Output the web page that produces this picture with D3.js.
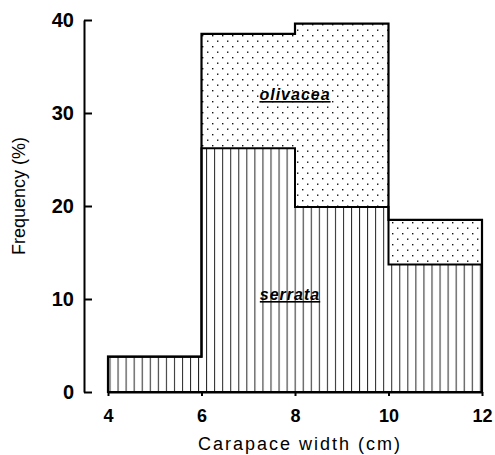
<!doctype html>
<html>
<head>
<meta charset="utf-8">
<script src="https://d3js.org/d3.v7.min.js"></script>
<style>
  body { margin: 0; background: #fff; }
  text { font-family: "Liberation Sans", Arial, sans-serif; fill: #000; }
  .tick line, .domain { stroke: #000; stroke-width: 2; }
</style>
</head>
<body>
<div id="chart"></div>
<script>
// class starts (cm), each class is 2 cm wide
var binStarts = [4, 6, 8, 10];
var binWidth = 2;
var serrata = [3.8, 26.2, 19.9, 13.7];
var olivacea = [0, 12.3, 19.7, 4.8];
var xTicks = [4, 6, 8, 10, 12];
var yTicks = [0, 10, 20, 30, 40];

var width = 495, height = 455;

var svg = d3.select("#chart").append("svg")
    .attr("width", width)
    .attr("height", height);

var x = d3.scaleLinear().domain([4, 12]).range([108, 482]);
var y = d3.scaleLinear().domain([0, 40]).range([392, 20]);

// fill patterns
var defs = svg.append("defs");
var hatch = defs.append("pattern")
    .attr("id", "vlines")
    .attr("patternUnits", "userSpaceOnUse")
    .attr("x", 109.5)
    .attr("width", 8.05).attr("height", 10);
hatch.append("rect").attr("width", 8.05).attr("height", 10).attr("fill", "#fff");
hatch.append("line")
    .attr("x1", 0.5).attr("x2", 0.5).attr("y1", 0).attr("y2", 10)
    .attr("stroke", "#222").attr("stroke-width", 1);

var dots = defs.append("pattern")
    .attr("id", "dots")
    .attr("patternUnits", "userSpaceOnUse")
    .attr("width", 10).attr("height", 11);
dots.append("rect").attr("width", 10).attr("height", 11).attr("fill", "#fff");
dots.append("rect").attr("x", 2).attr("y", 2).attr("width", 1.4).attr("height", 1.4).attr("fill", "#111");
dots.append("rect").attr("x", 7).attr("y", 7.5).attr("width", 1.4).attr("height", 1.4).attr("fill", "#111");

// step points: one per class start, plus the closing edge at 12
var pts = binStarts.map(function(s, i) {
    return {x: s, ser: serrata[i], tot: serrata[i] + olivacea[i]};
});
var last = pts[pts.length - 1];
pts.push({x: last.x + binWidth, ser: last.ser, tot: last.tot});

var serArea = d3.area().curve(d3.curveStepAfter)
    .x(function(d) { return x(d.x); })
    .y0(y(0))
    .y1(function(d) { return y(d.ser); });

var oliArea = d3.area().curve(d3.curveStepAfter)
    .x(function(d) { return x(d.x); })
    .y0(function(d) { return y(d.ser); })
    .y1(function(d) { return y(d.tot); });

var totArea = d3.area().curve(d3.curveStepAfter)
    .x(function(d) { return x(d.x); })
    .y0(y(0))
    .y1(function(d) { return y(d.tot); });

svg.append("path").datum(pts)
    .attr("d", oliArea)
    .attr("fill", "url(#dots)");

svg.append("path").datum(pts)
    .attr("d", serArea)
    .attr("fill", "url(#vlines)")
    .attr("stroke", "#000")
    .attr("stroke-width", 2);

svg.append("path").datum(pts)
    .attr("d", totArea)
    .attr("fill", "none")
    .attr("stroke", "#000")
    .attr("stroke-width", 2.2);

// axes
svg.append("g")
    .attr("transform", "translate(0," + y(0) + ")")
    .call(d3.axisBottom(x).tickValues(xTicks).tickSizeInner(4).tickSizeOuter(0).tickPadding(13))
    .call(function(g) {
        g.selectAll("text").attr("font-size", 18).attr("font-weight", "bold")
            .style("font-family", "'Liberation Sans', Arial, sans-serif").attr("fill", "#000");
    });

svg.append("g")
    .attr("transform", "translate(84,0)")
    .call(d3.axisLeft(y).tickValues(yTicks).tickSizeInner(-8).tickSizeOuter(0).tickPadding(10))
    .call(function(g) {
        g.selectAll("text").attr("font-size", 20).attr("font-weight", "bold")
            .style("font-family", "'Liberation Sans', Arial, sans-serif").attr("fill", "#000");
    });

// species labels
svg.append("text")
    .attr("x", x(8)).attr("y", 100)
    .attr("text-anchor", "middle")
    .attr("font-size", 16).attr("font-weight", "bold").attr("font-style", "italic")
    .style("letter-spacing", "1px")
    .style("text-decoration", "underline")
    .text("olivacea");

svg.append("text")
    .attr("x", 290).attr("y", 300)
    .attr("text-anchor", "middle")
    .attr("font-size", 16).attr("font-weight", "bold").attr("font-style", "italic")
    .style("letter-spacing", "1px")
    .style("text-decoration", "underline")
    .text("serrata");

// axis titles
svg.append("text")
    .attr("x", 300).attr("y", 450)
    .attr("text-anchor", "middle")
    .attr("font-size", 18)
    .style("letter-spacing", "2px")
    .text("Carapace width (cm)");

svg.append("text")
    .attr("transform", "translate(25,196) rotate(-90)")
    .attr("text-anchor", "middle")
    .attr("font-size", 18)
    .text("Frequency (%)");
</script>
</body>
</html>
